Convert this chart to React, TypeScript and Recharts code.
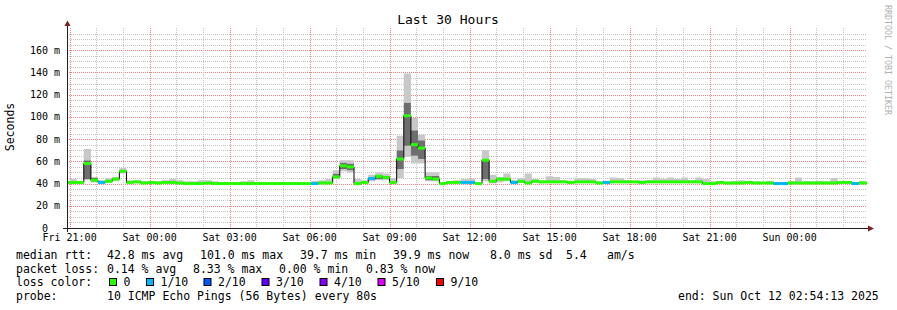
import { ComposedChart, Area, Line, Scatter, XAxis, YAxis } from 'recharts';

// time axis is in minutes from Fri 21:00, bins are 16 minutes wide
const X_MIN = -5.78; // Fri 20:54:13
const X_MAX = 1794.22; // Sun 02:54:13
const BIN_START = -16;
const BIN_MINUTES = 16;
const Y_MAX = 180;

const X_TICKS = [0, 180, 360, 540, 720, 900, 1080, 1260, 1440, 1620];
const X_LABELS = ['Fri 21:00', 'Sat 00:00', 'Sat 03:00', 'Sat 06:00', 'Sat 09:00', 'Sat 12:00', 'Sat 15:00', 'Sat 18:00', 'Sat 21:00', 'Sun 00:00'];
const Y_TICKS = [0, 20, 40, 60, 80, 100, 120, 140, 160];

// median rtt per bin (ms)
const MEDIAN = [
  41, 41, 41, 58, 43, 41, 42, 44, 51, 41,
  41.5, 40.5, 41, 40.5, 41, 41, 40.5, 40, 40, 40,
  40.5, 40, 40, 40, 40, 40, 40, 40, 40, 40,
  40, 40, 40, 40, 40, 40, 40.5, 40.5, 46, 56,
  55, 40, 41, 44.5, 46.5, 45.5, 41, 62, 101, 75,
  72, 45, 44, 40, 41, 41, 41, 41, 40, 61,
  42, 44, 44, 41, 42, 40.5, 42, 41.5, 41.5, 41.5,
  41.5, 41, 41.5, 41.5, 41.5, 40.5, 41, 41.5, 41.5, 41.5,
  41.5, 41, 41.5, 41.5, 41.5, 41.5, 41.5, 41.5, 41.5, 41.5,
  40, 40, 41, 40.5, 40.5, 40.5, 41, 40.5, 40.5, 40.5,
  40, 40, 40.5, 40.5, 40.5, 40.5, 40.5, 40.5, 40.5, 41,
  41, 40, 40.5, 40.5,
];

// lost pings out of 10
const LOSS = [
  0, 0, 0, 0, 0, 1, 0, 0, 0, 0,
  0, 0, 0, 0, 0, 0, 0, 0, 0, 0,
  0, 0, 0, 0, 0, 0, 0, 0, 0, 0,
  0, 0, 0, 0, 0, 1, 0, 0, 0, 0,
  0, 0, 0, 1, 0, 0, 0, 0, 0, 0,
  0, 0, 0, 0, 0, 0, 1, 1, 0, 0,
  0, 0, 0, 1, 0, 0, 0, 0, 0, 0,
  0, 0, 0, 0, 0, 0, 1, 0, 0, 0,
  0, 0, 0, 0, 0, 0, 0, 0, 0, 0,
  0, 0, 0, 0, 0, 0, 0, 0, 0, 0,
  1, 1, 0, 0, 0, 0, 0, 0, 0, 0,
  0, 1, 0, 0,
];

const PING_MIN = [
  40.5, 40.5, 40.5, 43, 41, 40.5, 41, 42, 49, 40.5,
  41, 40, 40.5, 40, 40.5, 40.5, 40, 39.5, 39.5, 39.5,
  40, 39.5, 39.5, 39.5, 39.5, 39.5, 39.5, 39.5, 39.5, 39.5,
  39.5, 39.5, 39.5, 39.5, 39.5, 39.5, 40, 40, 44, 51,
  50, 39.5, 40.5, 42, 43, 43, 40.5, 45, 64, 58,
  58, 42, 42, 39.5, 40.5, 40.5, 40.5, 40.5, 39.5, 42,
  40, 41, 42, 40.5, 41, 40, 41, 41, 41, 41,
  41, 40.5, 41, 41, 41, 40, 40.5, 41, 41, 41,
  41, 40.5, 41, 41, 41, 41, 41, 41, 41, 41,
  39.5, 39.5, 40.5, 40, 40, 40, 40.5, 40, 40, 40,
  39.5, 39.5, 40, 40, 40, 40, 40, 40, 40, 40.5,
  40.5, 39.5, 40, 40,
];

const PING_MAX = [
  42, 44, 42, 71, 46, 43, 45, 46, 54, 43,
  43, 42, 42, 42, 43, 44, 43, 42, 42, 43,
  43, 42, 41, 41, 41.5, 42, 43, 41.5, 41, 41,
  41.5, 41, 41, 41.5, 41, 42.5, 43, 44, 52, 61,
  61, 44, 43, 48, 50, 49, 45, 83, 139, 99,
  84, 50, 50, 41, 42, 43, 44, 44, 40.5, 70,
  48, 46, 49, 43, 45, 49, 44, 43, 46.5, 46,
  43, 42, 45, 45, 44, 42, 42, 45.5, 45, 43,
  42.5, 43, 43, 45.5, 44, 45.5, 44, 45.5, 43, 45.5,
  44, 42, 42, 41.5, 42, 43, 42, 42, 41.5, 42.5,
  41, 41, 42, 45.5, 42, 42, 42.5, 42, 45, 42,
  42, 41.5, 42, 41.5,
];

// dense middle of the ping spread, only where it is wide
const CORE_BINS = [3, 4, 38, 39, 40, 44, 45, 47, 48, 49, 50, 51, 52, 59];
const CORE_LOW = [44, 42, 45, 53, 52, 44, 44, 53, 74, 65, 62, 43, 43, 44];
const CORE_HIGH = [61, 45, 49, 59, 58, 48, 47, 70, 113, 88, 79, 47, 47, 62];

const LOSS_COLORS: Record<number, string> = { 0: '#26ff00', 1: '#00b8ff', 2: '#0059ff', 3: '#5e00ff', 4: '#7e00ff', 5: '#dd00ff', 9: '#ff0000' };
const LOSS_LEGEND = [
  { label: '0', color: '#26ff00', x: 109 },
  { label: '1/10', color: '#00b8ff', x: 146 },
  { label: '2/10', color: '#0059ff', x: 203.5 },
  { label: '3/10', color: '#5e00ff', x: 261.5 },
  { label: '4/10', color: '#7e00ff', x: 319.5 },
  { label: '5/10', color: '#dd00ff', x: 377.5 },
  { label: '9/10', color: '#ff0000', x: 436 },
];

const W = 897;
const H = 310;
const MARGIN = { top: 28, right: 30, bottom: 62, left: 7 };
const PLOT_L = 67;
const PLOT_T = 28;
const PLOT_W = 800;
const PLOT_H = 200;
const BIN_PX = (PLOT_W * BIN_MINUTES) / (X_MAX - X_MIN);
const MONO = 'DejaVu Sans Mono, monospace';
const GRID_MINOR = '#c4c4c4';
const GRID_MAJOR = '#f08080';

const rows: any[] = MEDIAN.map((m, i) => {
  const c = CORE_BINS.indexOf(i);
  const lo = PING_MIN[i];
  const hi = PING_MAX[i];
  const cl = c >= 0 ? CORE_LOW[c] : m;
  const ch = c >= 0 ? CORE_HIGH[c] : m;
  return {
    t: BIN_START + i * BIN_MINUTES,
    base: lo,
    outerLow: cl - lo,
    core: ch - cl,
    outerHigh: hi - ch,
    median: m,
    mark: m,
    loss: LOSS[i],
  };
});
// closing point so the last step gets drawn
rows.push({ ...rows[rows.length - 1], t: BIN_START + MEDIAN.length * BIN_MINUTES, mark: null });

// background grid: minor every 5 ms / hour, major (red) every 20 ms / 3 hours
const gx = (v: number) => Math.round(PLOT_L + ((v - X_MIN) / (X_MAX - X_MIN)) * PLOT_W) + 0.5;
const gy = (v: number) => Math.round(PLOT_T + PLOT_H - (v / Y_MAX) * PLOT_H) + 0.5;
const gridY: number[] = [];
for (let v = 5; v < Y_MAX; v += 5) gridY.push(v);
const gridX: number[] = [];
for (let v = 0; v < X_MAX; v += 60) gridX.push(v);

const MedianMark = (props: any) => {
  const { cx, cy, payload } = props;
  if (payload == null || payload.mark == null || !isFinite(cx) || !isFinite(cy)) return <g />;
  return <rect x={cx} y={cy - 1.5} width={BIN_PX} height={3} fill={LOSS_COLORS[payload.loss]} />;
};

const YTick = (props: any) => {
  const { y, payload } = props;
  return (
    <g fontFamily={MONO} fontSize={10} fill="#000">
      <text x={48} y={y} dy="0.355em" textAnchor="end">{payload.value}</text>
      {payload.value !== 0 && <text x={54} y={y} dy="0.355em">m</text>}
    </g>
  );
};

const statLines = [
  { y: 259, items: [[16, 'median rtt:'], [107, '42.8 ms avg'], [200, '101.0 ms max'], [300, '39.7 ms min'], [393, '39.9 ms now'], [490, '8.0 ms sd'], [566, '5.4'], [607, 'am/s']] },
  { y: 272.5, items: [[16, 'packet loss:'], [107, '0.14 % avg'], [193, '8.33 % max'], [279, '0.00 % min'], [366, '0.83 % now']] },
  { y: 299.5, items: [[16, 'probe:'], [107, '10 ICMP Echo Pings (56 Bytes) every 80s'], [678, 'end: Sun Oct 12 02:54:13 2025']] },
];

export default function App() {
  return (
    <div style={{ position: 'absolute', left: 0, top: 0, width: W, height: H, background: '#fff' }}>
      <svg width={W} height={H} style={{ position: 'absolute', left: 0, top: 0 }}>
        {gridY.map((v) => (
          <line key={`gy-${v}`} x1={PLOT_L} x2={PLOT_L + PLOT_W} y1={gy(v)} y2={gy(v)} stroke={v % 20 === 0 ? GRID_MAJOR : GRID_MINOR} strokeDasharray="1 1" />
        ))}
        {gridX.map((v) => (
          <line key={`gx-${v}`} x1={gx(v)} x2={gx(v)} y1={PLOT_T} y2={PLOT_T + PLOT_H} stroke={v % 180 === 0 ? GRID_MAJOR : GRID_MINOR} strokeDasharray="1 1" />
        ))}
      </svg>
      <div style={{ position: 'absolute', left: 0, top: 0 }}>
        <ComposedChart width={W} height={H} data={rows} margin={MARGIN}>
          <XAxis
            type="number"
            dataKey="t"
            domain={[X_MIN, X_MAX]}
            ticks={X_TICKS}
            interval={0}
            allowDataOverflow
            axisLine={false}
            tickLine={false}
            tickSize={6}
            tickMargin={0}
            height={20}
            tickFormatter={(v: number) => X_LABELS[X_TICKS.indexOf(v)]}
            tick={{ fontSize: 10, fill: '#000', fontFamily: MONO }}
          />
          <YAxis type="number" domain={[0, Y_MAX]} ticks={Y_TICKS} interval={0} allowDataOverflow width={60} axisLine={false} tickLine={false} tick={<YTick />} />
          <Area type="stepAfter" dataKey="base" stackId="smoke" stroke="none" fill="none" isAnimationActive={false} />
          <Area type="stepAfter" dataKey="outerLow" stackId="smoke" stroke="none" fill="#c8c8c8" fillOpacity={1} isAnimationActive={false} />
          <Area type="stepAfter" dataKey="core" stackId="smoke" stroke="none" fill="#6e6e6e" fillOpacity={1} isAnimationActive={false} />
          <Area type="stepAfter" dataKey="outerHigh" stackId="smoke" stroke="none" fill="#c8c8c8" fillOpacity={1} isAnimationActive={false} />
          <Line type="stepAfter" dataKey="median" stroke="#000" strokeWidth={1} dot={false} isAnimationActive={false} />
          <Scatter dataKey="mark" shape={<MedianMark />} isAnimationActive={false} />
        </ComposedChart>
      </div>
      <svg width={W} height={H} style={{ position: 'absolute', left: 0, top: 0, pointerEvents: 'none' }}>
        <line x1={63} y1={228.5} x2={870} y2={228.5} stroke="#1f1f1f" />
        <line x1={67.5} y1={232} x2={67.5} y2={25} stroke="#1f1f1f" />
        <polygon points="64.5,26 70.5,26 67.5,20.5" fill="#7f1f1f" />
        <polygon points="868,225.5 868,231.5 874,228.5" fill="#7f1f1f" />
        <text x={448} y={24} textAnchor="middle" fontFamily={MONO} fontSize={13} fill="#000">Last 30 Hours</text>
        <text x={0} y={0} transform="translate(10,127) rotate(-90)" textAnchor="middle" dominantBaseline="central" fontFamily={MONO} fontSize={11.5} fill="#000">Seconds</text>
        <text x={0} y={0} transform="translate(888,60) rotate(90)" textAnchor="middle" dominantBaseline="central" fontFamily={MONO} fontSize={8.3} fill="#b0b0b0">RRDTOOL / TOBI OETIKER</text>
        <g fontFamily={MONO} fontSize={11.5} fill="#000" style={{ whiteSpace: 'pre' }}>
          {statLines.map((line) => line.items.map(([x, s]) => (
            <text key={`${line.y}-${x}`} x={x as number} y={line.y}>{s}</text>
          )))}
          <text x={16} y={286}>loss color:</text>
          {LOSS_LEGEND.map((l) => (
            <g key={l.label}>
              <rect x={l.x + 0.5} y={278.5} width={7} height={7} fill={l.color} stroke="#000" />
              <text x={l.x + 14.5} y={286}>{l.label}</text>
            </g>
          ))}
        </g>
      </svg>
    </div>
  );
}
